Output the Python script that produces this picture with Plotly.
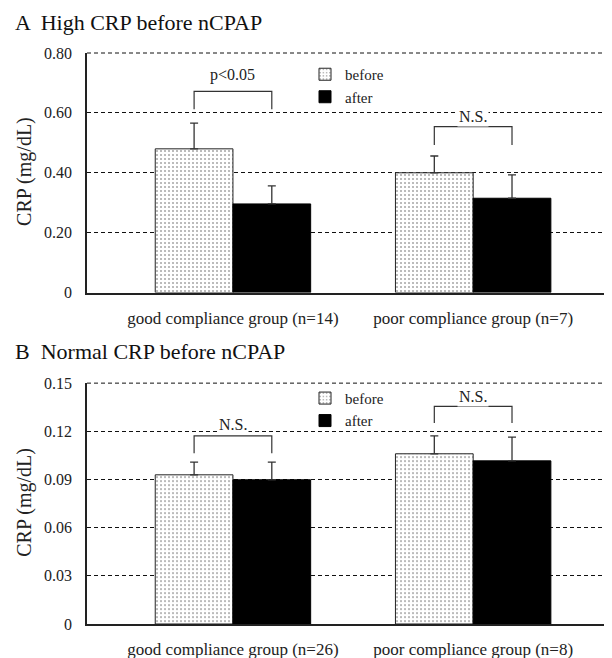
import plotly.graph_objects as go

# ---------------- data ----------------
groups_a = ["good compliance group (n=14)", "poor compliance group (n=7)"]
before_a = [0.48, 0.40]
before_err_a = [0.086, 0.056]
after_a = [0.296, 0.315]
after_err_a = [0.060, 0.078]
sig_a = ["p<0.05", "N.S."]
bracket_top_a = [0.672, 0.554]
bracket_leg_a = [0.612, 0.493]
sig_y_a = [0.727, 0.587]
ticks_a = [0, 0.2, 0.4, 0.6, 0.8]
ticktext_a = ["0", "0.20", "0.40", "0.60", "0.80"]

groups_b = ["good compliance group (n=26)", "poor compliance group (n=8)"]
before_b = [0.0929, 0.106]
before_err_b = [0.0079, 0.0112]
after_b = [0.0898, 0.1016]
after_err_b = [0.0110, 0.0148]
sig_b = ["N.S.", "N.S."]
bracket_top_b = [0.1172, 0.1355]
bracket_leg_b = [0.1064, 0.1251]
sig_y_b = [0.1240, 0.1417]
ticks_b = [0, 0.03, 0.06, 0.09, 0.12, 0.15]
ticktext_b = ["0", "0.03", "0.06", "0.09", "0.12", "0.15"]

FONT = "Liberation Serif"
BARGAP = 0.353
ERRC = "#333333"
GRIDDASH = "4px,3px"

# page body has an 8px margin: work in reference pixels and shift
OFF = 8
W, H = 612 - OFF, 658 - OFF
L = 87 - OFF
TOP, BOT = 53 - OFF, 624.3 - OFF
PA_BOTTOM = 292.7 - OFF
PB_TOP = 383.3 - OFF
span = BOT - TOP

def py(p):  # reference pixel y -> paper y
    return (BOT - (p - OFF)) / span

def px(p):  # reference pixel x -> paper x
    return ((p - OFF) - L) / (W - L)

fig = go.Figure()

def add_panel(xs_labels, before, berr, after, aerr, xa, ya, legend):
    xs = list(range(len(xs_labels)))
    fig.add_trace(go.Bar(
        x=xs, y=before, name="before", xaxis=xa, yaxis=ya, legend=legend,
        marker=dict(color="white", line=dict(color="#222", width=1),
                    pattern=dict(shape=".", fgcolor="#555", bgcolor="white",
                                 size=4, solidity=0.22)),
        error_y=dict(type="data", symmetric=False, array=berr,
                     arrayminus=[0] * len(berr), color=ERRC, thickness=1.3, width=4),
    ))
    fig.add_trace(go.Bar(
        x=xs, y=after, name="after", xaxis=xa, yaxis=ya, legend=legend,
        marker=dict(color="black", line=dict(color="black", width=1)),
        error_y=dict(type="data", symmetric=False, array=aerr,
                     arrayminus=[0] * len(aerr), color=ERRC, thickness=1.3, width=4),
    ))

add_panel(groups_a, before_a, before_err_a, after_a, after_err_a, "x", "y", "legend")
add_panel(groups_b, before_b, before_err_b, after_b, after_err_b, "x2", "y2", "legend2")

off = (1 - BARGAP) / 4

def add_brackets(sigs, tops, legs, sy, xref, yref):
    for i, (s, t, lg, yy) in enumerate(zip(sigs, tops, legs, sy)):
        x1, x2 = i - off, i + off
        fig.add_shape(type="path", xref=xref, yref=yref,
                      path=f"M {x1},{lg} L {x1},{t} L {x2},{t} L {x2},{lg}",
                      line=dict(color=ERRC, width=1.2))
        fig.add_annotation(x=i, y=yy, xref=xref, yref=yref, text=s,
                           showarrow=False, bgcolor="white", borderpad=1,
                           font=dict(family=FONT, size=16, color="#222"))

add_brackets(sig_a, bracket_top_a, bracket_leg_a, sig_y_a, "x", "y")
add_brackets(sig_b, bracket_top_b, bracket_leg_b, sig_y_b, "x2", "y2")

# top dashed gridline at the upper edge of each panel (plotly skips edge gridlines)
for xr_, yr_ in (("x domain", "y domain"), ("x2 domain", "y2 domain")):
    fig.add_shape(type="line", xref=xr_, yref=yr_, x0=0, x1=1, y0=1, y1=1,
                  line=dict(color="#111", width=1, dash=GRIDDASH), layer="below")

xr = [-0.6076, 1.578]
common_x = dict(range=xr, showline=True, linecolor="#222", linewidth=1.5,
                ticks="", showgrid=False, zeroline=False, tickmode="array",
                tickfont=dict(family=FONT, size=17, color="#222"),
                ticklabelstandoff=9)
common_y = dict(showline=True, linecolor="#222", linewidth=1.5, ticks="",
                showgrid=True, gridcolor="#111", griddash=GRIDDASH, gridwidth=1,
                zeroline=False, tickmode="array",
                tickfont=dict(family=FONT, size=16, color="#222"),
                ticklabelstandoff=10)

fig.update_layout(
    width=W, height=H,
    margin=dict(l=L, r=0, t=TOP, b=H - BOT, pad=0),
    plot_bgcolor="white", paper_bgcolor="white",
    barmode="group", bargap=BARGAP, bargroupgap=0,
    font=dict(family=FONT, color="#222"),
    xaxis=dict(common_x, domain=[0, 1], anchor="y",
               tickvals=[0, 1], ticktext=groups_a),
    yaxis=dict(common_y, domain=[py(PA_BOTTOM + OFF), 1], anchor="x",
               range=[0, 0.8], tickvals=ticks_a, ticktext=ticktext_a),
    xaxis2=dict(common_x, domain=[0, 1], anchor="y2",
                tickvals=[0, 1], ticktext=groups_b),
    yaxis2=dict(common_y, domain=[0, py(PB_TOP + OFF)], anchor="x2",
                range=[0, 0.15], tickvals=ticks_b, ticktext=ticktext_b),
    legend=dict(x=px(305), y=py(58), xanchor="left", yanchor="top",
                bgcolor="rgba(0,0,0,0)", font=dict(family=FONT, size=15),
                itemwidth=30, tracegroupgap=0),
    legend2=dict(x=px(305), y=py(382), xanchor="left", yanchor="top",
                 bgcolor="rgba(0,0,0,0)", font=dict(family=FONT, size=15),
                 itemwidth=30, tracegroupgap=0),
    showlegend=True,
)

# panel titles and y-axis titles
fig.add_annotation(text="A  High CRP before nCPAP", xref="paper", yref="paper",
                   x=px(13), y=py(22), xanchor="left", yanchor="middle",
                   showarrow=False, font=dict(family=FONT, size=22, color="#111"))
fig.add_annotation(text="B  Normal CRP before nCPAP", xref="paper", yref="paper",
                   x=px(13), y=py(352), xanchor="left", yanchor="middle",
                   showarrow=False, font=dict(family=FONT, size=22, color="#111"))
fig.add_annotation(text="CRP (mg/dL)", xref="paper", yref="paper",
                   x=px(25), y=py(172), xanchor="center", yanchor="middle",
                   textangle=-90, showarrow=False,
                   font=dict(family=FONT, size=20, color="#222"))
fig.add_annotation(text="CRP (mg/dL)", xref="paper", yref="paper",
                   x=px(25), y=py(503), xanchor="center", yanchor="middle",
                   textangle=-90, showarrow=False,
                   font=dict(family=FONT, size=20, color="#222"))

fig.write_html("out.html")
